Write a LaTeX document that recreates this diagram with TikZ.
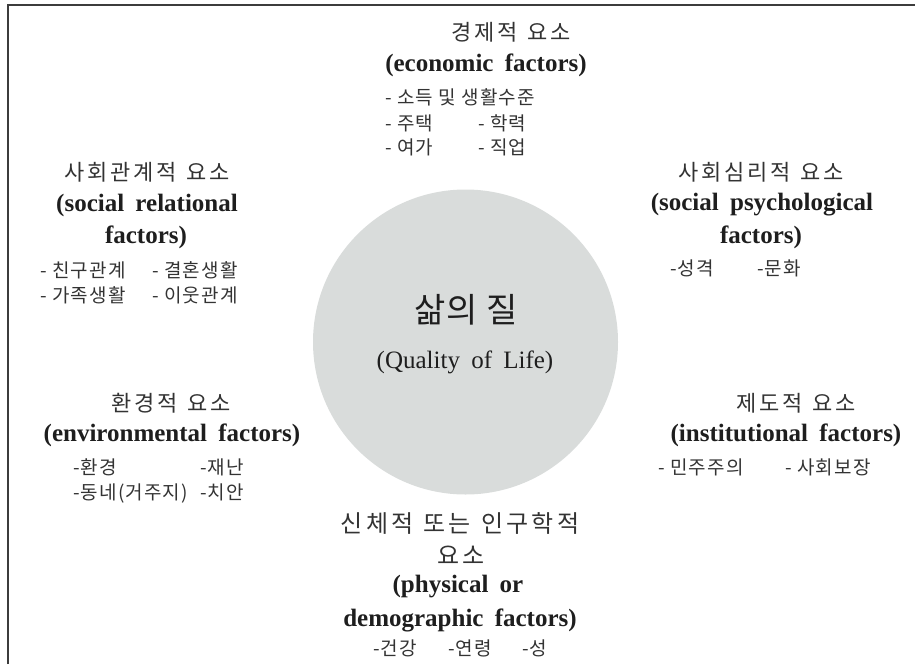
\documentclass[tikz,border=0pt]{standalone}
\usepackage{fontspec}
\setmainfont{Liberation Serif}
\newfontfamily\krt{Noto Sans CJK KR}[LetterSpace=12]
\newfontfamily\krp{Noto Sans CJK KR}[LetterSpace=14]
\newfontfamily\kri{Noto Sans CJK KR}[LetterSpace=6]
\newfontfamily\krc{Noto Sans CJK KR}[LetterSpace=3]
\definecolor{txt}{HTML}{1E1E1E}
\definecolor{krtxt}{HTML}{333333}
\definecolor{circ}{HTML}{D9DCDB}
\definecolor{framec}{HTML}{3C3C3C}
\newcommand{\ws}{\hspace{0.45em}}
\newcommand{\ks}{\hspace{10pt}}
\tikzset{
  ktitle/.style={font=\krt\fontsize{22}{26}\selectfont, text=krtxt, inner sep=0pt},
  ptitle/.style={font=\krp\fontsize{24}{28}\selectfont, text=krtxt, inner sep=0pt},
  entitle/.style={font=\bfseries\fontsize{25}{30}\selectfont, text=txt, inner sep=0pt},
  itemline/.style={font=\kri\fontsize{19}{22}\selectfont, text=krtxt, anchor=west, inner sep=0pt},
  framel/.style={draw=framec, line width=2pt},
}
\begin{document}
\begin{tikzpicture}[x=1pt,y=-1pt]
\useasboundingbox (0,0) rectangle (915,664);
\coordinate (fbl) at (8,664);
\coordinate (ftl) at (8,5);
\coordinate (ftr) at (915,5);
\draw[framel] (fbl) -- (ftl) -- (ftr);

% centre circle
\node[circle, fill=circ, minimum size=305pt, inner sep=0pt] (qol) at (465.5,342) {};
\node[font=\krc\fontsize{34}{38}\selectfont, text=txt, inner sep=0pt] (qolk) at (466,310) {삶의\hspace{8pt}질};
\node[font=\fontsize{25}{30}\selectfont, text=txt, inner sep=0pt] (qole) at (465,362) {(Quality\ws of\ws Life)};

% economic
\node[ktitle] (ecok) at (511,32) {경제적\ks 요소};
\node[entitle] (ecoe) at (486,65) {(economic\ws factors)};
\node[itemline] (eco1) at (385,97) {- 소득 및 생활수준};
\node[itemline] (eco2) at (385,123) {\makebox[93pt][l]{- 주택}- 학력};
\node[itemline] (eco3) at (385,147) {\makebox[93pt][l]{- 여가}- 직업};

% social relational
\node[ktitle] (srk) at (147,172) {사회관계적\ks 요소};
\node[entitle] (sre1) at (147,205) {(social\ws relational};
\node[entitle] (sre2) at (146,237) {factors)};
\node[itemline] (sr1) at (40,270) {\makebox[112pt][l]{- 친구관계}- 결혼생활};
\node[itemline] (sr2) at (40,295) {\makebox[112pt][l]{- 가족생활}- 이웃관계};

% social psychological
\node[ktitle] (spk) at (761,172) {사회심리적\ks 요소};
\node[entitle] (spe1) at (762,205) {(social\ws psychological};
\node[entitle] (spe2) at (761,237) {factors)};
\node[itemline] (sp1) at (670,268) {\makebox[87pt][l]{-성격}-문화};

% environmental
\node[ktitle] (envk) at (171,403) {환경적\ks 요소};
\node[entitle] (enve) at (172,435) {(environmental\ws factors)};
\node[itemline] (env1) at (73,467) {\makebox[127pt][l]{-환경}-재난};
\node[itemline] (env2) at (73,493) {\makebox[127pt][l]{-동네(거주지)}-치안};

% institutional
\node[ktitle] (insk) at (796,403) {제도적\ks 요소};
\node[entitle] (inse) at (786,435) {(institutional\ws factors)};
\node[itemline] (ins1) at (658,467) {\makebox[127pt][l]{- 민주주의}- 사회보장};

% physical / demographic
\node[ptitle] (phk1) at (460,523) {신체적\ks 또는\ks 인구학적};
\node[ptitle] (phk2) at (461,555) {요소};
\node[entitle] (phe1) at (458,587) {(physical\ws or};
\node[entitle] (phe2) at (460,620) {demographic\ws factors)};
\node[itemline] (ph1) at (373,648) {\makebox[75pt][l]{-건강}\makebox[74pt][l]{-연령}-성};
\end{tikzpicture}
\end{document}
